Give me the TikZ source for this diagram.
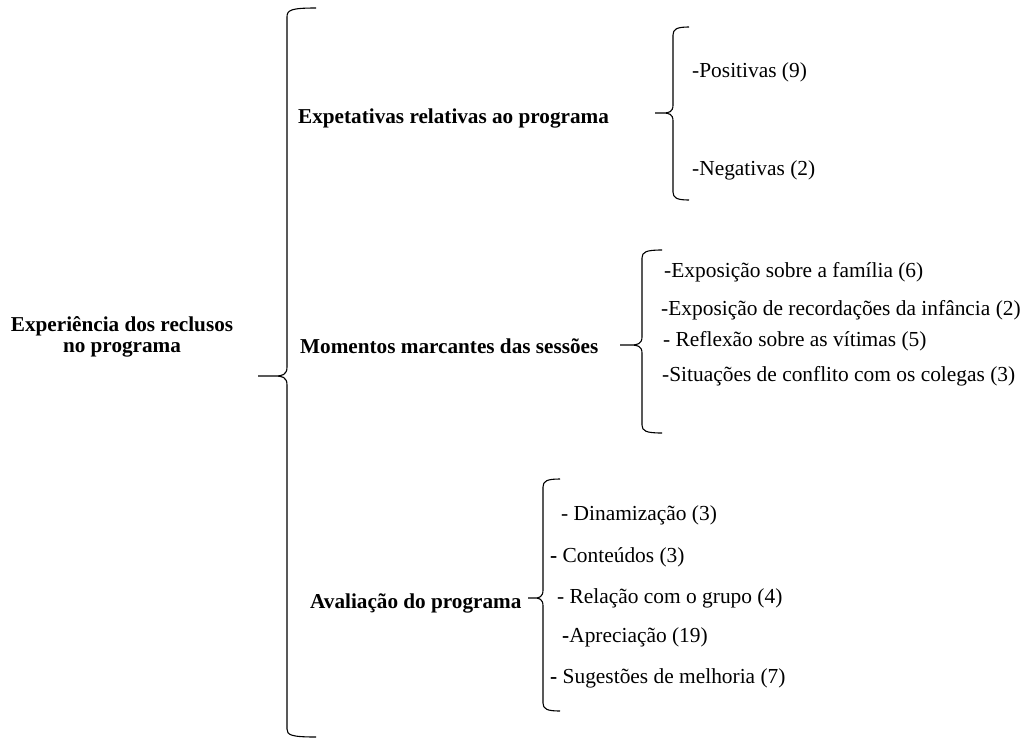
\documentclass[tikz,border=0pt]{standalone}
\usepackage{fontspec}
\setmainfont{Liberation Serif}
\usetikzlibrary{calc}

\begin{document}
\begin{tikzpicture}[x=1pt,y=-1pt,
    head/.style={font=\fontsize{21.2}{21}\selectfont\bfseries, inner sep=0pt},
    item/.style={font=\fontsize{21.4}{24}\selectfont, inner sep=0pt, anchor=west},
    brc/.style={line width=1.1pt}]
    \useasboundingbox (0,0) rectangle (1022,742);

    % Root and the three themes
    \node[head, align=center] (root) at (122,337) {Experiência dos reclusos\\no programa};
    \node[head, anchor=west] (expet) at (298,118) {Expetativas relativas ao programa};
    \node[head, anchor=west] (moment) at (300,346) {Momentos marcantes das sessões};
    \node[head, anchor=west] (aval) at (310,603) {Avaliação do programa};

    % Subcategories
    \node[item] (pos) at (692,72) {-Positivas (9)};
    \node[item] (neg) at (692,170) {-Negativas (2)};

    \node[item] (fam) at (664,272) {-Exposição sobre a família (6)};
    \node[item] (inf) at (661,310) {-Exposição de recordações da infância (2)};
    \node[item] (vit) at (663,341) {- Reflexão sobre as vítimas (5)};
    \node[item] (conf) at (662,376) {-Situações de conflito com os colegas (3)};

    \node[item] (din) at (561,515) {- Dinamização (3)};
    \node[item] (cont) at (550,557) {\textbf{-} Conteúdos (3)};
    \node[item] (rel) at (557,598) {- Relação com o grupo (4)};
    \node[item] (apr) at (562,637) {\textbf{-}Apreciação (19)};
    \node[item] (sug) at (550,678) {\textbf{-} Sugestões de melhoria (7)};

    % The braces
    \draw[brc] (316,8) .. controls (291,8) and (287,10) .. (287,17) -- (287,367)
        .. controls (287,375) and (282,376) .. (275,376) -- (258,376) -- (275,376)
        .. controls (282,376) and (287,377) .. (287,385) -- (287,729)
        .. controls (287,735) and (291,737) .. (316,737);
    \draw[brc] (689,27) .. controls (677,27) and (673,29) .. (673,35) -- (673,105)
        .. controls (673,112) and (669,113) .. (663,113) -- (655,113) -- (663,113)
        .. controls (669,113) and (673,114) .. (673,121) -- (673,192)
        .. controls (673,198) and (677,200) .. (689,200);
    \draw[brc] (662,250) .. controls (646,250) and (642,252) .. (642,258) -- (642,337)
        .. controls (642,344) and (637,345) .. (631,345) -- (620,345) -- (631,345)
        .. controls (637,345) and (642,346) .. (642,353) -- (642,425)
        .. controls (642,431) and (646,433) .. (662,433);
    \draw[brc] (560,479) .. controls (547,479) and (543,481) .. (543,487) -- (543,590)
        .. controls (543,597) and (539,598) .. (535,598) -- (528,598) -- (535,598)
        .. controls (539,598) and (543,599) .. (543,606) -- (543,703)
        .. controls (543,709) and (547,711) .. (560,711);
\end{tikzpicture}
\end{document}
